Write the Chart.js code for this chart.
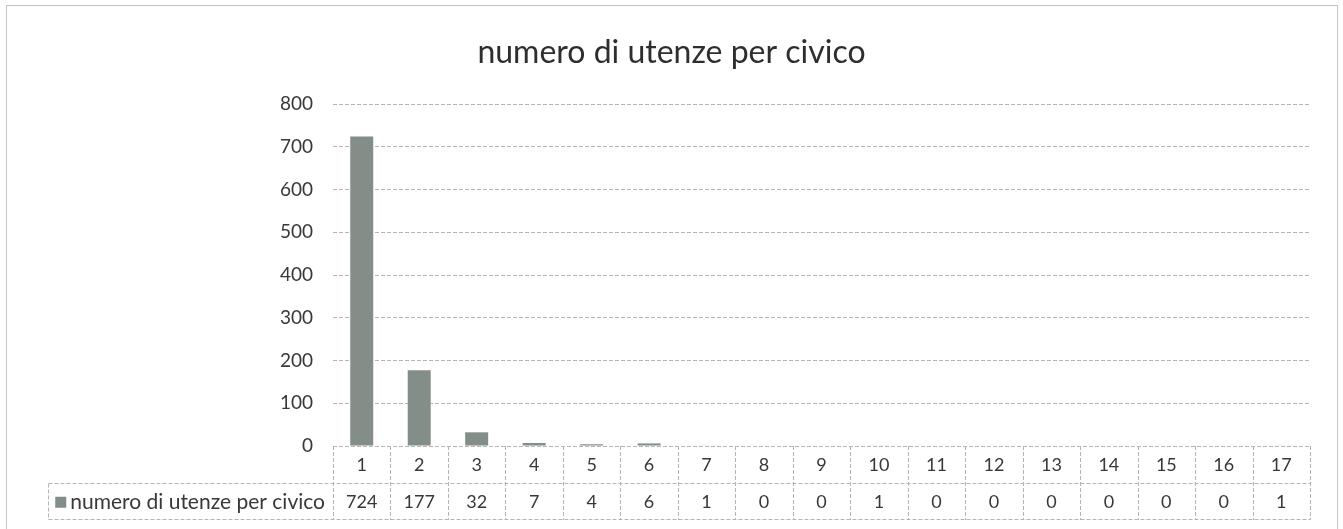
<!DOCTYPE html>
<html>
<head>
<meta charset="utf-8">
<script src="https://cdn.jsdelivr.net/npm/chart.js@4.4.1/dist/chart.umd.min.js"></script>
<style>
html,body{margin:0;padding:0;background:#fff;}
#wrap{width:1343px;height:529px;position:relative;}
</style>
</head>
<body>
<div id="wrap"><canvas id="c" width="1343" height="529"></canvas></div>
<script>
// ---- data ----
const chartTitle = 'numero di utenze per civico';
const seriesName = 'numero di utenze per civico';
const categories = ['1','2','3','4','5','6','7','8','9','10','11','12','13','14','15','16','17'];
const values = [724, 177, 32, 7, 4, 6, 1, 0, 0, 1, 0, 0, 0, 0, 0, 0, 1];
const yTickValues = [0, 100, 200, 300, 400, 500, 600, 700, 800];

// ---- styles ----
const FONT = 'Lato, "Open Sans", "DejaVu Sans", sans-serif';
const TEXT = '#383838';
const BAR = '#848e88';
const LINE = '#b5b5b5';

const framePlugin = {
  id: 'frame',
  beforeDraw(chart) {
    const ctx = chart.ctx;
    ctx.save();
    ctx.fillStyle = '#fff';
    ctx.fillRect(0, 0, chart.width, chart.height);
    ctx.strokeStyle = '#c4c4c4';
    ctx.lineWidth = 1;
    ctx.strokeRect(6.5, 5.5, 1331, 540);
    // chart title, centred on the whole chart frame
    ctx.fillStyle = '#2e2e2e';
    ctx.font = '32px ' + FONT;
    ctx.textAlign = 'center';
    ctx.textBaseline = 'alphabetic';
    ctx.fillText(chartTitle, chart.width / 2, 63);
    ctx.restore();
  }
};

const tablePlugin = {
  id: 'dataTable',
  afterDraw(chart) {
    const ctx = chart.ctx;
    const xs = chart.scales.x;
    const top = xs.top;
    const bottom = xs.bottom;
    const mid = Math.round((top + bottom) / 2) + 0.5;
    const left = xs.left, right = xs.right;
    const labelLeft = 48.5;
    ctx.save();
    ctx.strokeStyle = LINE;
    ctx.lineWidth = 1;
    ctx.setLineDash([4, 2]);
    ctx.beginPath();
    ctx.moveTo(labelLeft, mid); ctx.lineTo(right, mid);
    ctx.moveTo(labelLeft, bottom - 0.5); ctx.lineTo(right, bottom - 0.5);
    ctx.stroke();
    ctx.beginPath();
    const bounds = [left];
    for (let i = 1; i < categories.length; i++) {
      bounds.push((xs.getPixelForValue(i - 1) + xs.getPixelForValue(i)) / 2);
    }
    bounds.push(right);
    bounds.forEach(b => {
      const bx = Math.round(b) + 0.5;
      ctx.moveTo(bx, top); ctx.lineTo(bx, bottom);
    });
    ctx.moveTo(labelLeft, mid); ctx.lineTo(labelLeft, bottom);
    ctx.stroke();
    ctx.setLineDash([]);
    ctx.fillStyle = TEXT;
    ctx.font = '18px ' + FONT;
    ctx.textAlign = 'center';
    ctx.textBaseline = 'middle';
    const rowY = (mid + bottom) / 2;
    values.forEach((v, i) => {
      ctx.fillText(String(v), xs.getPixelForValue(i), rowY);
    });
    ctx.font = '21px ' + FONT;
    ctx.textAlign = 'right';
    ctx.fillText(seriesName, left - 8, rowY);
    const tw = ctx.measureText(seriesName).width;
    const mx = left - 8 - tw - 15;
    ctx.fillStyle = BAR;
    ctx.fillRect(mx, rowY - 5, 11, 11);
    ctx.restore();
  }
};

new Chart(document.getElementById('c'), {
  type: 'bar',
  data: {
    labels: categories,
    datasets: [{
      label: seriesName,
      data: values,
      backgroundColor: BAR,
      borderWidth: 0,
      barPercentage: 0.4,
      categoryPercentage: 1.0
    }]
  },
  options: {
    responsive: false,
    animation: false,
    devicePixelRatio: 1,
    layout: { padding: { top: 104, bottom: 9, left: 0, right: 33 } },
    plugins: {
      legend: { display: false },
      tooltip: { enabled: false },
      title: { display: false }
    },
    scales: {
      x: {
        grid: { display: false, drawTicks: false },
        border: { display: false },
        ticks: { color: TEXT, font: { family: FONT, size: 18 }, padding: 8, maxRotation: 0, autoSkip: false },
        afterFit(s) { s.height = 74; }
      },
      y: {
        min: 0,
        max: 800,
        afterBuildTicks(s) { s.ticks = yTickValues.map(v => ({ value: v })); },
        grid: { color: LINE, drawTicks: false, lineWidth: 1 },
        border: { display: false, dash: [4, 2] },
        ticks: { color: TEXT, font: { family: FONT, size: 19 }, padding: 20 },
        afterFit(s) { s.width = 333; }
      }
    }
  },
  plugins: [framePlugin, tablePlugin]
});
</script>
</body>
</html>
